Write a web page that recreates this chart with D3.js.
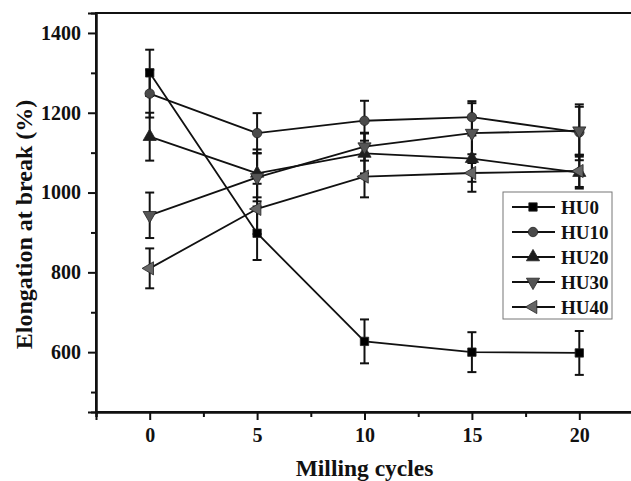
<!DOCTYPE html>
<html>
<head>
<meta charset="utf-8">
<script src="https://cdn.jsdelivr.net/npm/d3@7"></script>
<style>
  body { margin: 0; background: #fff; }
  svg { display: block; font-family: "Liberation Serif", "DejaVu Serif", serif; font-weight: bold; }
</style>
</head>
<body>
<div id="chart"></div>
<script>
// milling cycles on x
const cycles = [0, 5, 10, 15, 20];

// elongation at break (%) per sample
const hu0 = [1300, 898, 627, 600, 598];
const hu10 = [1248, 1149, 1180, 1189, 1151];
const hu20 = [1140, 1048, 1098, 1085, 1050];
const hu30 = [943, 1038, 1115, 1149, 1155];
const hu40 = [810, 959, 1040, 1049, 1054];

// error bar half-widths
const hu0Err = [58, 67, 55, 50, 55];
const hu10Err = [60, 50, 50, 40, 70];
const hu20Err = [60, 60, 50, 58, 40];
const hu30Err = [57, 60, 35, 75, 60];
const hu40Err = [50, 63, 52, 47, 40];

const yTicks = [600, 800, 1000, 1200, 1400];
const yMinor = [500, 700, 900, 1100, 1300];
const xMinor = [-2.5, 2.5, 7.5, 12.5, 17.5, 22.5];

const series = [
  { name: 'HU0', values: hu0, err: hu0Err, symbol: d3.symbolSquare, fill: '#000', rot: 0 },
  { name: 'HU10', values: hu10, err: hu10Err, symbol: d3.symbolCircle, fill: '#4a4a4a', rot: 0 },
  { name: 'HU20', values: hu20, err: hu20Err, symbol: d3.symbolTriangle, fill: '#1e1e1e', rot: 0 },
  { name: 'HU30', values: hu30, err: hu30Err, symbol: d3.symbolTriangle, fill: '#555', rot: 180 },
  { name: 'HU40', values: hu40, err: hu40Err, symbol: d3.symbolTriangle, fill: '#666', rot: -90 }
];

const width = 631, height = 481;
const margin = { left: 96, top: 13, right: -2, bottom: 69 };

const svg = d3.select('#chart').append('svg')
  .attr('width', width)
  .attr('height', height);

const x = d3.scaleLinear().domain([-2.5, 22.5]).range([margin.left, width - margin.right]);
const y = d3.scaleLinear().domain([450, 1450]).range([height - margin.bottom, margin.top]);

// frame (top line; right edge falls off the page)
svg.append('rect')
  .attr('x', x(-2.5))
  .attr('y', y(1450))
  .attr('width', x(22.5) - x(-2.5))
  .attr('height', y(450) - y(1450))
  .attr('fill', 'none')
  .attr('stroke', '#111')
  .attr('stroke-width', 2);

// axes
svg.append('g')
  .attr('transform', `translate(${x(-2.5)},0)`)
  .call(d3.axisLeft(y).tickValues(yTicks).tickSize(8).tickPadding(7).tickFormat(d3.format('d')));
svg.append('g')
  .attr('transform', `translate(${x(-2.5)},0)`)
  .call(d3.axisLeft(y).tickValues(yMinor).tickSize(5).tickFormat(''));

svg.append('g')
  .attr('transform', `translate(0,${y(450)})`)
  .call(d3.axisBottom(x).tickValues(cycles).tickSize(8).tickPadding(8));
svg.append('g')
  .attr('transform', `translate(0,${y(450)})`)
  .call(d3.axisBottom(x).tickValues(xMinor).tickSize(5).tickFormat(''));

svg.selectAll('.domain').attr('stroke', '#111').attr('stroke-width', 2);
svg.selectAll('.tick line').attr('stroke', '#111').attr('stroke-width', 2);
svg.selectAll('.tick text')
  .attr('fill', '#111')
  .style('font-size', '20px')
  .style('font-family', '"Liberation Serif", serif')
  .style('font-weight', 'bold');

// axis titles
svg.append('text')
  .attr('transform', `translate(32,${(y(450) + y(1450)) / 2 + 12}) rotate(-90)`)
  .attr('text-anchor', 'middle')
  .attr('fill', '#111')
  .style('font-size', '24px')
  .text('Elongation at break (%)');

svg.append('text')
  .attr('x', (x(-2.5) + x(22.5)) / 2)
  .attr('y', 476)
  .attr('text-anchor', 'middle')
  .attr('fill', '#111')
  .style('font-size', '23.5px')
  .text('Milling cycles');

const line = d3.line()
  .x((d, i) => x(cycles[i]))
  .y(d => y(d));

const sym = s => d3.symbol().type(s.symbol).size(s.symbol === d3.symbolTriangle ? 75 : 70)();

// error bars
series.forEach(s => {
  const g = svg.append('g');
  s.values.forEach((v, i) => {
    const cx = x(cycles[i]);
    const hi = y(v + s.err[i]), lo = y(v - s.err[i]);
    g.append('line').attr('x1', cx).attr('x2', cx).attr('y1', hi).attr('y2', lo)
      .attr('stroke', '#111').attr('stroke-width', 2);
    [hi, lo].forEach(cy => {
      g.append('line').attr('x1', cx - 4.5).attr('x2', cx + 4.5).attr('y1', cy).attr('y2', cy)
        .attr('stroke', '#111').attr('stroke-width', 2);
    });
  });
});

// lines and markers
series.forEach(s => {
  svg.append('path')
    .datum(s.values)
    .attr('d', line)
    .attr('fill', 'none')
    .attr('stroke', '#111')
    .attr('stroke-width', 1.8);
});
series.forEach(s => {
  svg.append('g').selectAll('path')
    .data(s.values)
    .join('path')
    .attr('d', sym(s))
    .attr('transform', (d, i) => `translate(${x(cycles[i])},${y(d)}) rotate(${s.rot})`)
    .attr('fill', s.fill)
    .attr('stroke', '#222')
    .attr('stroke-width', 0.8);
});

// legend
const legend = svg.append('g').attr('transform', 'translate(503,192)');
legend.append('rect')
  .attr('width', 109)
  .attr('height', 127)
  .attr('fill', '#fff')
  .attr('stroke', '#777')
  .attr('stroke-width', 1);
series.forEach((s, i) => {
  const ly = 15 + i * 25;
  legend.append('line').attr('x1', 9).attr('x2', 52).attr('y1', ly).attr('y2', ly)
    .attr('stroke', '#111').attr('stroke-width', 1.8);
  legend.append('path')
    .attr('d', sym(s))
    .attr('transform', `translate(30,${ly}) rotate(${s.rot})`)
    .attr('fill', s.fill)
    .attr('stroke', '#222')
    .attr('stroke-width', 0.8);
  legend.append('text')
    .attr('x', 58)
    .attr('y', ly + 6.5)
    .attr('fill', '#111')
    .style('font-size', '19px')
    .text(s.name);
});
</script>
</body>
</html>
